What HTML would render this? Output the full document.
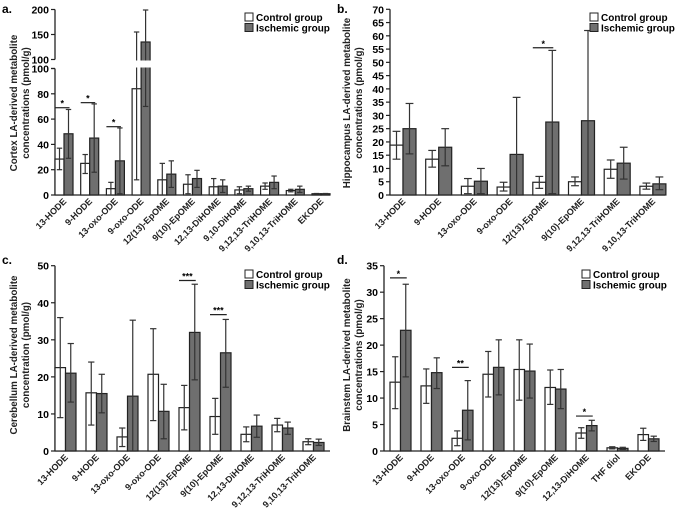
<!DOCTYPE html>
<html><head><meta charset="utf-8"><style>
html,body{margin:0;padding:0;background:#fff;}
svg{display:block;font-family:"Liberation Sans",sans-serif;}
</style></head><body>
<svg id="fig" width="675" height="510" viewBox="0 0 675 510"></svg>
<script>
// ---- Panel a: Cortex ----
const catsA = ["13-HODE","9-HODE","13-oxo-ODE","9-oxo-ODE","12(13)-EpOME","9(10)-EpOME","12,13-DiHOME","9,10-DiHOME","9,12,13-TriHOME","9,10,13-TriHOME","EKODE"];
const ctrlA = [28.4,25,5,84,12,8.5,6.5,4,7,3.5,1];
const ctrlHiA = [37,32,10,155,25,16,13,6.5,9.5,4.5,1.2];
const ctrlLoA = [20,17,0,12,0,1,0,1,4.5,2.5,0.8];
const iscA = [48.4,45,27,135,16.5,13,7,5,10,4.5,1];
const iscHiA = [67.6,72,53,199,27,19.5,12,7,15,7,1.2];
const iscLoA = [29,18,1,70,6,6,2,3,5,2,0.8];
const ticksA = [0,20,40,60,80,100,150,200];
const sigA = [[0,69,"*"],[1,73,"*"],[2,54,"*"]];
// ---- Panel b: Hippocampus ----
const catsB = ["13-HODE","9-HODE","13-oxo-ODE","9-oxo-ODE","12(13)-EpOME","9(10)-EpOME","9,12,13-TriHOME","9,10,13-TriHOME"];
const ctrlB = [18.8,13.5,3.3,3,4.8,5,9.7,3.3];
const ctrlHiB = [24,16.8,6.2,4.8,7,6.8,13.2,4.5];
const ctrlLoB = [13.5,10.5,0.5,1.5,2.5,3.5,6.3,2.2];
const iscB = [25,18,5.2,15.3,27.5,28,12,4.2];
const iscHiB = [34.5,25,10,36.8,54.5,62,18,6.8];
const iscLoB = [15.5,11,0.5,0,0.5,0,6,2];
const ticksB = [0,5,10,15,20,25,30,35,40,45,50,55,60,65,70];
const sigB = [[4,55.5,"*"]];
// ---- Panel c: Cerebellum ----
const catsC = ["13-HODE","9-HODE","13-oxo-ODE","9-oxo-ODE","12(13)-EpOME","9(10)-EpOME","12,13-DiHOME","9,12,13-TriHOME","9,10,13-TriHOME"];
const ctrlC = [22.5,15.7,3.8,20.7,11.7,9.3,4.5,7,2.5];
const ctrlHiC = [36,24,6.2,33,17.7,14.2,6.5,8.8,3.3];
const ctrlLoC = [9,7,1.2,8.2,5.7,4.5,2.5,5.2,1.7];
const iscC = [21,15.5,14.8,10.7,32,26.5,6.7,6.2,2.3];
const iscHiC = [29,20.7,35.3,18,45,35.5,9.7,7.8,3.2];
const iscLoC = [13.2,10.3,0,3.3,19.2,17.2,3.7,4.5,1.5];
const ticksC = [0,10,20,30,40,50];
const sigC = [[4,46,"***"],[5,36.8,"***"]];
// ---- Panel d: Brainstem ----
const catsD = ["13-HODE","9-HODE","13-oxo-ODE","9-oxo-ODE","12(13)-EpOME","9(10)-EpOME","12,13-DiHOME","THF diol","EKODE"];
const ctrlD = [13,12.3,2.4,14.5,15.4,12,3.4,0.6,3.1];
const ctrlHiD = [17.8,15.5,3.8,18.8,21,15.3,4.4,0.8,4.3];
const ctrlLoD = [8,9,1,10.2,9.6,8.8,2.4,0.4,2];
const iscD = [22.8,14.8,7.7,15.8,15.1,11.7,4.8,0.5,2.3];
const iscHiD = [31.5,17.6,13.3,21,20.2,15.4,5.8,0.7,2.8];
const iscLoD = [14,11.8,2.1,10.6,10,8,3.8,0.3,1.8];
const ticksD = [0,5,10,15,20,25,30,35];
const sigD = [[0,32.7,"*"],[2,15.8,"**"],[6,6.6,"*"]];

const NS="http://www.w3.org/2000/svg";
const svg=document.getElementById('fig');
function mk(tag,attrs,parent){const e=document.createElementNS(NS,tag);for(const k in attrs)e.setAttribute(k,attrs[k]);(parent||svg).appendChild(e);return e;}

function panel(p){
  const g=mk('g',{});
  
  
  const y=p.y;
  const L=mk('text',{x:p.lx,y:p.ly,'font-size':12,'font-weight':'bold'},g);L.textContent=p.id+'.';
  
  
  const t=mk('text',{transform:`translate(${p.tx},${p.ty}) rotate(-90)`,'text-anchor':'middle','font-size':9.8,'font-weight':'bold',fill:'#222'},g);
  
  
  mk('tspan',{x:0,dy:0},t).textContent=p.title[0];
  mk('tspan',{x:0,dy:12},t).textContent=p.title[1];
  if(p.brk){
    mk('line',{x1:p.ax,x2:p.ax,y1:y(0),y2:y(100),stroke:'#222','stroke-width':1.3},g);
    mk('line',{x1:p.ax,x2:p.ax,y1:p.brk[0],y2:y(p.tmax),stroke:'#222','stroke-width':1.3},g);
  } else mk('line',{x1:p.ax,x2:p.ax,y1:y(0),y2:y(p.tmax),stroke:'#222','stroke-width':1.3},g);
  const xa=mk('line',{x1:p.ax,x2:p.axEnd,y1:y(0),y2:y(0),stroke:'#222','stroke-width':1.3},g);
  
  
  p.ticks.forEach((v,i)=>{
    let yy=y(v);
    if(p.brk && v===100){ [y(100),p.brk[0]].forEach(q=>mk('line',{x1:p.ax-4,x2:p.ax,y1:q,y2:q,stroke:'#222','stroke-width':1.2},g));
      const tl=mk('text',{x:p.ax-6,y:p.brk[0]+4,'text-anchor':'end','font-size':10.5,'font-weight':'bold'},g);tl.textContent=v;
      
      }
    mk('line',{x1:p.ax-4,x2:p.ax,y1:yy,y2:yy,stroke:'#222','stroke-width':1.2},g);
    const tl=mk('text',{x:p.ax-6,y:yy+4,'text-anchor':'end','font-size':10.5,'font-weight':'bold'},g);tl.textContent=v;
    
    
  });
  const bw=p.bw;
  function err(cx,hi,lo){
    mk('line',{x1:cx,x2:cx,y1:y(hi),y2:y(lo),stroke:'#333','stroke-width':1.2},g);
    [hi,lo].forEach(v=>mk('line',{x1:cx-bw*0.3,x2:cx+bw*0.3,y1:y(v),y2:y(v),stroke:'#333','stroke-width':1.2},g));
  }
  p.cats.forEach((c,i)=>{
    const x0=p.ax+p.off+i*p.step;
    const b1=mk('rect',{x:x0,y:y(p.ctrl[i]),width:bw,height:y(0)-y(p.ctrl[i]),fill:'#fff',stroke:'#222','stroke-width':1.2},g);
    
    
    const b2=mk('rect',{x:x0+bw,y:y(p.isc[i]),width:bw,height:y(0)-y(p.isc[i]),fill:'#6f6f6f',stroke:'#222','stroke-width':1.2},g);
    
    
    err(x0+bw/2,p.ctrlHi[i],p.ctrlLo[i]);
    err(x0+bw*1.5,p.iscHi[i],p.iscLo[i]);
    const cx=x0+bw;
    const lab=mk('text',{transform:`translate(${cx+3},${y(0)+7}) rotate(-45)`,'text-anchor':'end','font-size':9,'font-weight':'bold',fill:'#222'},g);
    lab.textContent=c;
    
    
  });
  if(p.brk){
    mk('rect',{x:p.ax-1,y:p.brk[0]+1,width:p.axEnd-p.ax,height:p.brk[1]-p.brk[0]-2,fill:'#fff'},g);
  }
  p.sig.forEach(s=>{
    const x0=p.ax+p.off+s[0]*p.step;
    const yy=y(s[1]);
    const l=mk('line',{x1:x0,x2:x0+bw*1.5+1,y1:yy,y2:yy,stroke:'#222','stroke-width':1.2},g);
    
    
    const st=mk('text',{x:x0+bw*0.8,y:yy-1,'text-anchor':'middle','font-size':9,'font-weight':'bold'},g);st.textContent=s[2];
    
    
  });
  const lg=mk('g',{},g);
  
  
  [['Control group','#fff'],['Ischemic group','#6f6f6f']].forEach((e,i)=>{
    mk('rect',{x:p.legx,y:p.legy+i*10.5,width:8,height:8,fill:e[1],stroke:'#222','stroke-width':1},lg);
    const tt=mk('text',{x:p.legx+11,y:p.legy+i*10.5+8,'font-size':10,'font-weight':'bold'},lg);tt.textContent=e[0];
    
    
  });
}
function yA(v){return v<=100?195-v*1.265:59.5-(v-100)*0.5;}
panel({id:'a',lx:2,ly:13,tx:17,ty:103,title:['Cortex LA-derived metabolite','concentrations (pmol/g)'],y:yA,brk:[59.5,68.5],tmax:200,ticks:ticksA,ax:55,axEnd:330,off:0,step:25.7,bw:9,cats:catsA,ctrl:ctrlA,ctrlHi:ctrlHiA,ctrlLo:ctrlLoA,isc:iscA,iscHi:iscHiA,iscLo:iscLoA,sig:sigA,legx:245,legy:13});
panel({id:'b',lx:337,ly:13,tx:350,ty:103,title:['Hippocampus LA-derived metabolite','concentrations (pmol/g)'],y:v=>195-v*2.653,tmax:70,ticks:ticksB,ax:390,axEnd:665,off:0,step:35.7,bw:13,cats:catsB,ctrl:ctrlB,ctrlHi:ctrlHiB,ctrlLo:ctrlLoB,isc:iscB,iscHi:iscHiB,iscLo:iscLoB,sig:sigB,legx:590,legy:13});
panel({id:'c',lx:2,ly:264,tx:17,ty:355,title:['Cerebellum LA-derived metabolite','concentration (pmol/g)'],y:v=>451-v*3.706,tmax:50,ticks:ticksC,ax:55,axEnd:330,off:0,step:31,bw:10.5,cats:catsC,ctrl:ctrlC,ctrlHi:ctrlHiC,ctrlLo:ctrlLoC,isc:iscC,iscHi:iscHiC,iscLo:iscLoC,sig:sigC,legx:245,legy:270});
panel({id:'d',lx:337,ly:264,tx:350,ty:355,title:['Brainstem LA-derived metabolite','concentrations (pmol/g)'],y:v=>451-v*5.294,tmax:35,ticks:ticksD,ax:384,axEnd:665,off:6,step:31,bw:10.5,cats:catsD,ctrl:ctrlD,ctrlHi:ctrlHiD,ctrlLo:ctrlLoD,isc:iscD,iscHi:iscHiD,iscLo:iscLoD,sig:sigD,legx:582,legy:270});
</script>
</body></html>
